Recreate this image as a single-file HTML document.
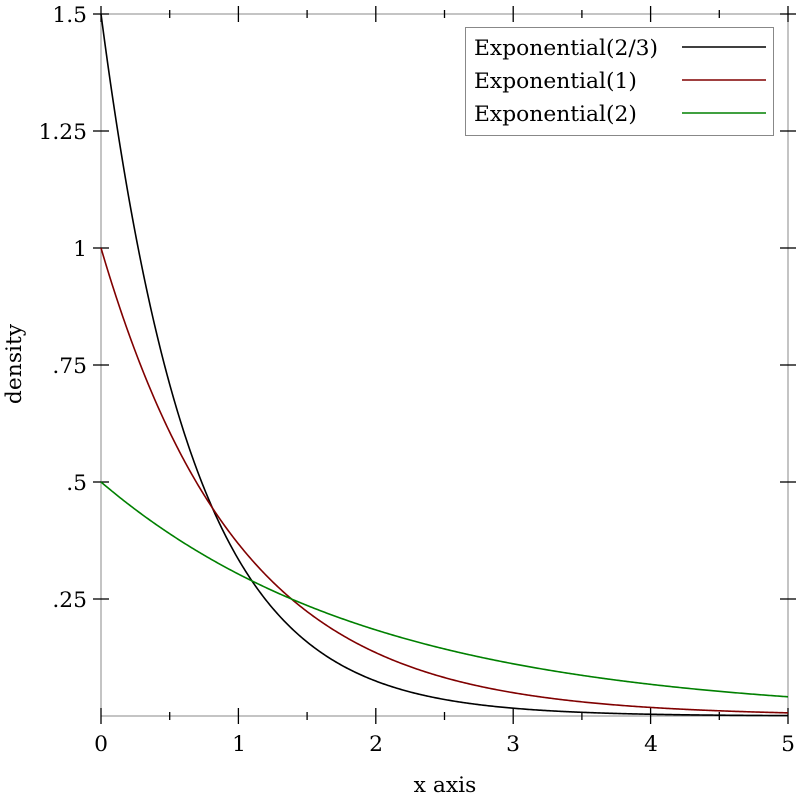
<!DOCTYPE html>
<html><head><style>body{margin:0;background:#fff}svg{display:block}text{font-family:"DejaVu Serif","Liberation Serif",serif;font-size:21.8px;fill:#000}</style></head>
<body>
<svg id="s" width="800" height="800" xmlns="http://www.w3.org/2000/svg">
<rect x="101" y="14" width="687" height="702" fill="none" stroke="#888" stroke-width="1"/>
<g id="ticks" stroke="#000" stroke-width="1.3"></g>
<g id="curves" fill="none" stroke-width="1.6"></g>
<g text-anchor="middle">
<text x="101" y="751">0</text><text x="239" y="751">1</text><text x="376" y="751">2</text><text x="513" y="751">3</text><text x="651" y="751">4</text><text x="788" y="751">5</text>
<text x="445" y="792">x axis</text>
</g>
<g text-anchor="end">
<text x="87" y="22">1.5</text><text x="87" y="139">1.25</text><text x="87" y="256">1</text><text x="87" y="373">.75</text><text x="87" y="490">.5</text><text x="87" y="607">.25</text>
</g>
<text transform="translate(21,364) rotate(-90)" text-anchor="middle">density</text>
<rect x="465.5" y="27.5" width="308" height="108" fill="#fff" stroke="#888"/>
<text x="474" y="55">Exponential(2/3)</text>
<text x="474" y="88">Exponential(1)</text>
<text x="474" y="121">Exponential(2)</text>
<line x1="682" y1="47" x2="766" y2="47" stroke="#000" stroke-width="1.6"/>
<line x1="682" y1="80" x2="766" y2="80" stroke="#800000" stroke-width="1.6"/>
<line x1="682" y1="113" x2="766" y2="113" stroke="#008000" stroke-width="1.6"/>
</svg>
<script>
var X=function(x){return 101+x*137.4},Y=function(y){return 716-y*468};
var t="";
for(var i=0;i<=10;i++){var x=X(i/2),L=i%2?4:8;
t+='<line x1="'+x+'" y1="'+(716-L)+'" x2="'+x+'" y2="'+(716+L)+'"/>';
t+='<line x1="'+x+'" y1="'+(14-L)+'" x2="'+x+'" y2="'+(14+L)+'"/>';}
for(var j=1;j<=6;j++){var y=Y(j*0.25);
t+='<line x1="93" y1="'+y+'" x2="109" y2="'+y+'"/>';
t+='<line x1="780" y1="'+y+'" x2="796" y2="'+y+'"/>';}
document.getElementById("ticks").innerHTML=t;
var fs=[[function(x){return 1.5*Math.exp(-1.5*x)},"#000"],[function(x){return Math.exp(-x)},"#800000"],[function(x){return 0.5*Math.exp(-x/2)},"#008000"]];
var c="";
fs.forEach(function(f){var p="";for(var k=0;k<=500;k++){var x=k/100;p+=(k?"L":"M")+X(x).toFixed(2)+" "+Y(f[0](x)).toFixed(2);}
c+='<path d="'+p+'" stroke="'+f[1]+'"/>';});
document.getElementById("curves").innerHTML=c;
</script>
</body></html>
